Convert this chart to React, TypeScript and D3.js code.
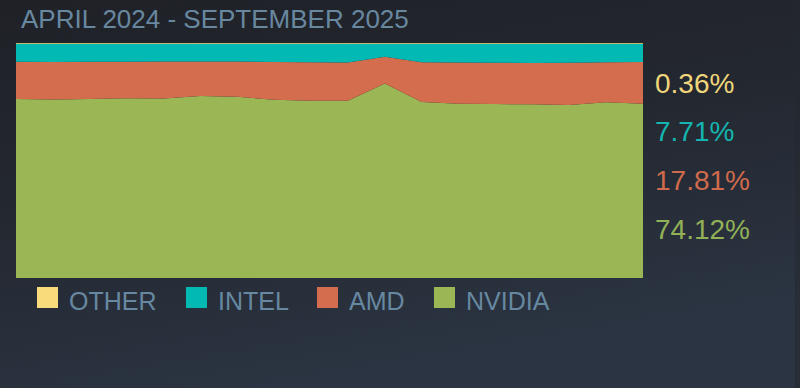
import React from "react";
import * as d3 from "d3";

const months = [
  "2024-04", "2024-05", "2024-06", "2024-07", "2024-08", "2024-09",
  "2024-10", "2024-11", "2024-12", "2025-01", "2025-02", "2025-03",
  "2025-04", "2025-05", "2025-06", "2025-07", "2025-08", "2025-09",
];
const nvidia = [76.17, 76.0, 76.2, 76.5, 76.4, 77.4, 77.1, 75.8, 75.4, 75.4, 82.8, 74.9, 74.2, 74.0, 73.9, 73.6, 74.8, 74.12];
const amd = [15.87, 15.96, 15.83, 15.57, 15.74, 14.77, 15.02, 16.09, 16.38, 16.34, 11.36, 16.89, 17.45, 17.62, 17.57, 18.0, 16.98, 17.81];
const intel = [7.6, 7.69, 7.62, 7.58, 7.51, 7.48, 7.53, 7.76, 7.87, 7.91, 5.49, 7.86, 8.0, 8.03, 8.18, 8.05, 7.87, 7.71];
const other = [0.36, 0.35, 0.35, 0.35, 0.35, 0.35, 0.35, 0.35, 0.35, 0.35, 0.35, 0.35, 0.35, 0.35, 0.35, 0.35, 0.35, 0.36];

const keys = ["NVIDIA", "AMD", "INTEL", "OTHER"];
const legendOrder = ["OTHER", "INTEL", "AMD", "NVIDIA"];
const labelOrder = ["OTHER", "INTEL", "AMD", "NVIDIA"];
const title = "APRIL 2024 - SEPTEMBER 2025";

const colors: Record<string, string> = {
  OTHER: "#f8dc7c",
  INTEL: "#02b9b3",
  AMD: "#d36d4e",
  NVIDIA: "#9ab655",
};
const labelColors: Record<string, string> = {
  OTHER: "#f0d67a",
  INTEL: "#14b5b0",
  AMD: "#cf6a4c",
  NVIDIA: "#92b157",
};

const W = 800;
const H = 388;
const chart = { left: 16, right: 643, top: 43, bottom: 278 };
const FONT = "'Liberation Sans', Arial, sans-serif";

export default function App() {
  const rows = months.map((m, i) => ({
    month: m,
    NVIDIA: nvidia[i],
    AMD: amd[i],
    INTEL: intel[i],
    OTHER: other[i],
  }));
  const series = d3.stack<any>().keys(keys).offset(d3.stackOffsetExpand)(rows);
  const x = d3.scalePoint<string>().domain(months).range([chart.left, chart.right]);
  const y = d3.scaleLinear().domain([0, 1]).range([chart.bottom, chart.top]);
  const area = d3
    .area<any>()
    .x((d) => x(d.data.month) as number)
    .y0((d) => y(d[0]))
    .y1((d) => y(d[1]));

  const last = rows[rows.length - 1];
  const lastVals: Record<string, number> = {
    NVIDIA: last.NVIDIA,
    AMD: last.AMD,
    INTEL: last.INTEL,
    OTHER: last.OTHER,
  };
  const labelY = [93, 141, 190, 239];
  const legendX = [37, 186, 317, 434];

  return (
    <svg
      width={W}
      height={H}
      style={{ position: "fixed", left: 0, top: 0, display: "block" }}
    >
      <defs>
        <linearGradient id="bg" x1="0" y1="0" x2="0.35" y2="1">
          <stop offset="0" stopColor="#1f2127" />
          <stop offset="0.45" stopColor="#23272f" />
          <stop offset="1" stopColor="#2b3442" />
        </linearGradient>
      </defs>
      <rect x={0} y={0} width={W} height={H} fill="url(#bg)" />
      <rect x={795} y={0} width={5} height={H} fill="#23272e" opacity={0.5} />
      <text x={21} y={28} fontFamily={FONT} fontSize={26} fill="#6888a0">
        {title}
      </text>
      <g>
        {series.map((s) => (
          <path key={s.key} d={area(s) as string} fill={colors[s.key]} stroke="none" />
        ))}
      </g>
      <g>
        {labelOrder.map((k, i) => (
          <text
            key={k}
            x={655}
            y={labelY[i]}
            fontFamily={FONT}
            fontSize={28}
            fill={labelColors[k]}
          >
            {lastVals[k].toFixed(2) + "%"}
          </text>
        ))}
      </g>
      <g>
        {legendOrder.map((k, i) => (
          <g key={k} transform={`translate(${legendX[i]},287)`}>
            <rect x={0} y={0} width={21} height={21} fill={colors[k]} />
            <text x={32} y={23} fontFamily={FONT} fontSize={25} fill="#6788a1">
              {k}
            </text>
          </g>
        ))}
      </g>
    </svg>
  );
}
